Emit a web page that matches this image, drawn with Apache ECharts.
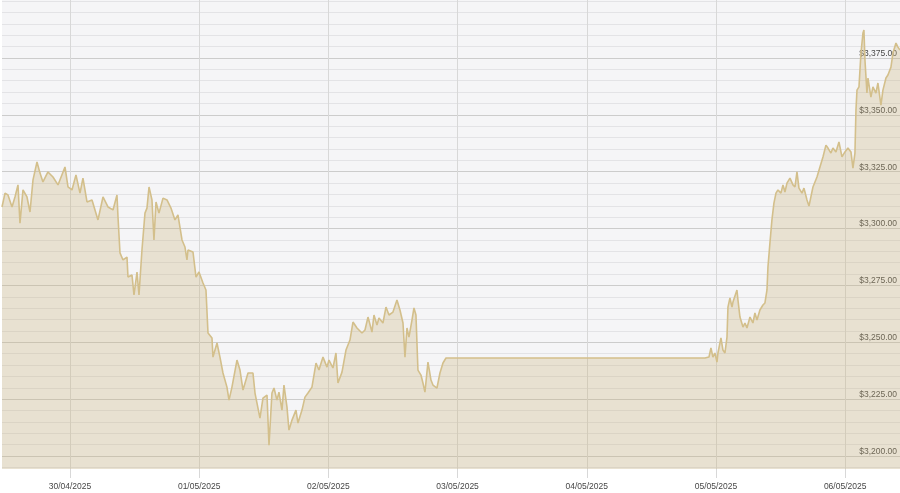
<!DOCTYPE html>
<html>
<head>
<meta charset="utf-8">
<script src="https://cdn.jsdelivr.net/npm/echarts@6/dist/echarts.min.js"></script>
<style>
  html, body { margin: 0; padding: 0; background: #ffffff; }
  #chart { width: 900px; height: 493px; }
</style>
</head>
<body>
<div id="chart"></div>
<script>
// Hours since 30/04/2025 00:00
const hours = [
  -12.63, -12.07, -11.52, -10.77, -10.22, -9.66, -9.29, -8.73, -7.99, -7.43,
  -6.87, -6.13, -5.57, -5.02, -4.09, -3.16, -2.23, -0.93, -0.37, 0.37,
  1.11, 1.86, 2.41, 3.16, 4.09, 5.20, 6.13, 7.06, 7.99, 8.73,
  8.92, 9.29, 9.85, 10.59, 10.77, 11.52, 11.89, 12.45, 12.82, 13.37,
  13.93, 14.30, 14.68, 15.23, 15.60, 15.98, 16.53, 17.28, 18.02, 18.76,
  19.50, 20.06, 20.81, 21.36, 21.73, 21.92, 22.85, 23.41, 23.96, 24.71,
  25.26, 25.64, 26.38, 26.56, 27.31, 27.86, 28.42, 29.16, 29.54, 30.09,
  31.02, 31.58, 32.14, 33.07, 33.99, 34.37, 34.74, 35.29, 35.85, 36.60,
  36.97, 37.52, 37.90, 38.45, 38.82, 39.38, 39.75, 40.31, 40.68, 41.24,
  41.98, 42.35, 43.10, 43.65, 44.21, 44.95, 45.70, 46.25, 47.00, 47.74,
  48.11, 48.85, 49.41, 49.78, 50.53, 51.27, 52.01, 52.57, 53.31, 54.24,
  54.80, 55.36, 56.10, 56.47, 57.03, 57.40, 58.14, 58.70, 59.26, 60.00,
  60.74, 61.30, 61.86, 62.23, 62.60, 62.97, 63.53, 63.90, 64.27, 64.64,
  65.20, 65.57, 65.94, 66.50, 67.06, 67.43, 68.17, 68.73, 69.29, 69.85,
  117.96, 118.70, 119.07, 119.44, 119.81, 120.19, 120.37, 120.93, 121.30, 121.67,
  122.05, 122.23, 122.60, 122.98, 123.16, 123.90, 124.09, 124.46, 125.02, 125.39,
  125.76, 126.32, 126.87, 127.24, 127.62, 128.17, 128.73, 129.10, 129.48, 129.66,
  130.03, 130.40, 130.77, 131.15, 131.52, 132.07, 132.45, 132.82, 133.19, 133.75,
  134.31, 134.68, 135.05, 135.42, 135.98, 136.35, 136.91, 137.28, 138.02, 138.77,
  139.32, 139.88, 140.43, 140.81, 141.36, 141.73, 142.29, 142.85, 143.41, 143.96,
  144.52, 145.08, 145.45, 145.82, 146.01, 146.20, 146.57, 146.94, 147.31, 147.49,
  147.68, 148.05, 148.24, 148.79, 149.16, 149.72, 150.09, 150.65, 151.02, 151.58,
  151.95, 152.51, 152.88, 153.44, 153.81, 154.19
];
const prices = [
  3309.5, 3315.6, 3314.8, 3309.5, 3313.9, 3319.2, 3302.4, 3317.0, 3313.9, 3307.3,
  3321.4, 3329.3, 3324.4, 3320.5, 3324.9, 3322.7, 3319.2, 3327.1, 3318.3, 3317.0,
  3323.6, 3315.6, 3322.2, 3311.7, 3312.6, 3303.8, 3313.9, 3309.5, 3308.2, 3314.8,
  3305.1, 3289.3, 3286.2, 3287.5, 3278.7, 3279.6, 3270.8, 3280.9, 3270.8, 3290.6,
  3306.8, 3309.0, 3318.3, 3312.6, 3295.0, 3311.7, 3306.8, 3313.4, 3312.6, 3309.0,
  3303.8, 3306.0, 3295.0, 3291.9, 3286.2, 3290.6, 3289.7, 3278.7, 3280.9, 3276.1,
  3273.0, 3254.1, 3251.9, 3243.5, 3249.7, 3243.5, 3236.5, 3230.3, 3224.6, 3230.3,
  3242.2, 3237.8, 3229.0, 3236.5, 3236.5, 3227.7, 3223.3, 3216.7, 3225.5, 3226.8,
  3204.8, 3227.7, 3229.9, 3224.6, 3228.1, 3220.2, 3231.2, 3221.5, 3211.4, 3215.8,
  3220.2, 3214.5, 3220.2, 3225.9, 3227.7, 3230.3, 3240.9, 3237.8, 3243.5, 3239.1,
  3242.2, 3238.7, 3245.3, 3232.1, 3236.9, 3246.6, 3251.0, 3258.9, 3256.3, 3254.1,
  3255.4, 3261.1, 3254.5, 3262.0, 3257.6, 3260.7, 3258.5, 3265.5, 3262.0, 3263.3,
  3268.6, 3264.2, 3258.5, 3243.5, 3256.3, 3252.3, 3259.8, 3265.1, 3262.0, 3237.8,
  3235.6, 3232.1, 3228.1, 3241.3, 3233.4, 3231.2, 3229.9, 3236.5, 3240.9, 3243.1,
  3243.1, 3243.5, 3247.5, 3243.5, 3245.3, 3241.3, 3245.3, 3251.9, 3246.6, 3245.3,
  3252.3, 3265.5, 3269.5, 3265.5, 3267.7, 3273.0, 3268.6, 3261.1, 3256.7, 3258.5,
  3256.3, 3261.1, 3258.5, 3262.9, 3259.8, 3264.2, 3266.4, 3267.3, 3273.0, 3283.1,
  3293.7, 3303.8, 3311.2, 3315.6, 3317.0, 3315.6, 3319.2, 3316.1, 3320.0, 3322.2,
  3319.2, 3318.3, 3324.9, 3317.8, 3315.6, 3317.8, 3312.6, 3309.9, 3318.3, 3322.7,
  3327.1, 3331.5, 3336.7, 3335.4, 3333.2, 3335.4, 3333.7, 3338.1, 3331.5, 3333.7,
  3335.4, 3333.7, 3326.6, 3333.2, 3352.1, 3360.9, 3362.3, 3377.2, 3386.0, 3387.3,
  3374.1, 3359.6, 3366.2, 3357.8, 3362.3, 3359.6, 3364.0, 3354.3, 3360.9, 3366.2,
  3367.5, 3371.0, 3377.2, 3381.6, 3379.8, 3378.5
];

// X ticks (hours since 30/04/2025 00:00) and their labels
const xTicks = [0, 24, 48, 72, 96, 120, 144];
const xTickLabels = ['30/04/2025', '01/05/2025', '02/05/2025', '03/05/2025', '04/05/2025', '05/05/2025', '06/05/2025'];

// Y ticks
const yTicks = [3200, 3225, 3250, 3275, 3300, 3325, 3350, 3375];
const yTickLabels = ['$3,200.00', '$3,225.00', '$3,250.00', '$3,275.00', '$3,300.00', '$3,325.00', '$3,350.00', '$3,375.00'];
const yMinorTicks = [];
for (let v = 3195; v <= 3400; v += 5) yMinorTicks.push(v);

const xMin = -12.63, xMax = 154.19;
const yMin = 3194.3, yMax = 3400.5;

const data = hours.map((h, i) => [h, prices[i]]);

const chart = echarts.init(document.getElementById('chart'), null, { renderer: 'canvas' });
chart.setOption({
  animation: false,
  backgroundColor: '#ffffff',
  grid: {
    left: 2, right: 0, top: 0, bottom: 24,
    show: true, backgroundColor: '#f5f5f7', borderWidth: 0,
    containLabel: false
  },
  xAxis: {
    type: 'value',
    min: xMin, max: xMax,
    axisLine: { show: false },
    axisTick: {
      show: true, length: 9, customValues: xTicks,
      lineStyle: { color: '#d8d8d8', width: 1 }
    },
    axisLabel: {
      show: true, customValues: xTicks, margin: 13,
      fontFamily: 'Liberation Sans, Arial, sans-serif', fontSize: 8.5, color: '#474747',
      formatter: (v) => xTickLabels[xTicks.indexOf(Math.round(v))] || ''
    },
    splitLine: { show: true, lineStyle: { color: '#d8d8d8', width: 1 } }
  },
  yAxis: [
    {
      type: 'value', position: 'right',
      min: yMin, max: yMax,
      axisLine: { show: false },
      axisTick: { show: false, customValues: yMinorTicks },
      axisLabel: { show: false },
      splitLine: { show: true, lineStyle: { color: '#e3e3e6', width: 1 } }
    },
    {
      type: 'value', position: 'right',
      min: yMin, max: yMax,
      axisLine: { show: false },
      axisTick: { show: false, customValues: yTicks },
      axisLabel: {
        show: true, inside: true, customValues: yTicks, margin: 3,
        verticalAlign: 'bottom', align: 'right',
        fontFamily: 'Liberation Sans, Arial, sans-serif', fontSize: 8.5, color: '#474747',
        formatter: (v) => yTickLabels[yTicks.indexOf(Math.round(v))] || ''
      },
      splitLine: { show: true, lineStyle: { color: '#cccccc', width: 1 } }
    }
  ],
  series: [{
    type: 'line',
    yAxisIndex: 0,
    data: data,
    showSymbol: false,
    symbol: 'none',
    smooth: false,
    z: 1,
    lineStyle: { color: '#d3bf8b', width: 1.6 },
    areaStyle: { color: 'rgba(200,176,120,0.42)', origin: 'start' }
  }]
});
</script>
</body>
</html>
